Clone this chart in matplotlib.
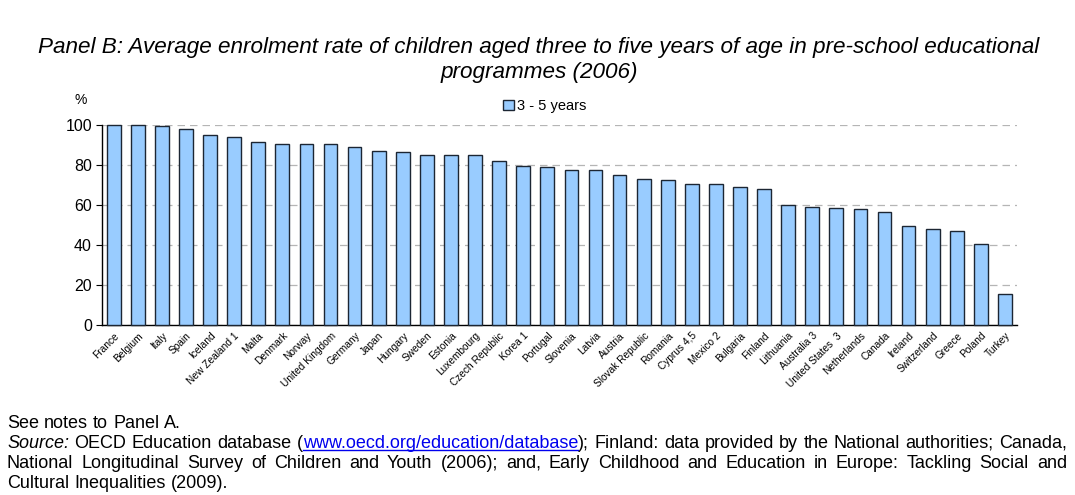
import numpy as np
import matplotlib
matplotlib.use("Agg")
import matplotlib.pyplot as plt
from matplotlib.lines import Line2D

plt.rcParams['font.family'] = ['Liberation Sans', 'DejaVu Sans']

countries = ["France", "Belgium", "Italy", "Spain", "Iceland", "New Zealand 1", "Malta",
             "Denmark", "Norway", "United Kingdom", "Germany", "Japan", "Hungary", "Sweden",
             "Estonia", "Luxembourg", "Czech Republic", "Korea 1", "Portugal", "Slovenia",
             "Latvia", "Austria", "Slovak Republic", "Romania", "Cyprus 4,5", "Mexico 2",
             "Bulgaria", "Finland", "Lithuania", "Australia 3", "United States  3",
             "Netherlands", "Canada", "Ireland", "Switzerland", "Greece", "Poland", "Turkey"]
rates = [100.0, 100.0, 99.5, 97.8, 95.0, 93.8, 91.5,
         90.7, 90.7, 90.7, 89.0, 87.2, 86.7, 85.2,
         85.2, 85.2, 82.2, 79.7, 79.2, 77.3,
         77.3, 74.8, 72.8, 72.5, 70.3, 70.3,
         69.0, 68.0, 60.2, 59.2, 58.3,
         57.8, 56.7, 49.3, 48.0, 46.8, 40.5, 15.7]
yticks = [0, 20, 40, 60, 80, 100]
series_name = "3 - 5 years"

title = ("Panel B: Average enrolment rate of children aged three to five years of age in pre-school educational\n"
         "programmes (2006)")

W, H = 1075, 495
fig = plt.figure(figsize=(W / 100, H / 100), dpi=100)
ax = fig.add_axes([101.7 / W, 1 - 325 / H, (1017 - 101.7) / W, 200 / H])

x = np.arange(len(countries))
ax.bar(x, rates, width=0.57, color="#99CCFF", edgecolor="#1c2633", linewidth=1.0,
       label=series_name, zorder=3, clip_on=False)

ax.set_xlim(-0.5, len(countries) - 0.5)
ax.set_ylim(0, 100)
ax.set_yticks(yticks)
ax.set_yticklabels([str(v) for v in yticks], fontsize=11.5)
ax.tick_params(axis="y", length=4, width=0.8, pad=3)
ax.set_xticks(x)
ax.set_xticklabels(countries, rotation=45, ha="right", rotation_mode="anchor", fontsize=7.3)
ax.tick_params(axis="x", length=0, pad=4)

for s in ["top", "right"]:
    ax.spines[s].set_visible(False)
ax.spines["left"].set_linewidth(1.0)
ax.spines["bottom"].set_linewidth(1.0)
ax.yaxis.grid(True, linestyle=(0, (6, 4)), color="#b5b5b5", linewidth=0.9, zorder=0)
ax.set_axisbelow(True)

ax.text(-0.023, 1.125, "%", transform=ax.transAxes, fontsize=10, ha="center", va="center")

leg = ax.legend(loc="center", bbox_to_anchor=(0.484, 1.094), frameon=False, fontsize=10.5,
                handlelength=0.7, handleheight=0.7, handletextpad=0.2)

fig.text(539 / W, 1 - 60 / H, title, ha="center", va="center", fontsize=16.2,
         style="italic", linespacing=1.2)

# footnote, justified by hand
renderer = fig.canvas.get_renderer()
fs = 13
plain = {}
ital = {"style": "italic"}
link = {"color": "#0000ee", "link": True}


def split_words(txt, st):
    return [[(w, st)] for w in txt.split()]


lines = [
    (split_words("See notes to Panel A.", plain), False),
    ([[("Source:", ital)]] + split_words("OECD Education database", plain)
     + [[("(", plain), ("www.oecd.org/education/database", link), (");", plain)]]
     + split_words("Finland: data provided by the National authorities; Canada,", plain), True),
    (split_words("National Longitudinal Survey of Children and Youth (2006); and, Early "
                 "Childhood and Education in Europe: Tackling Social and", plain), True),
    (split_words("Cultural Inequalities (2009).", plain), False),
]
baselines = [428, 448, 468, 488]
x0, x1 = 7, 1067


def seg_width(txt, st):
    kw = {k: v for k, v in st.items() if k != "link"}
    t = fig.text(0, 0, txt, fontsize=fs, **kw)
    w = t.get_window_extent(renderer).width
    t.remove()
    return w


space_w = seg_width("a a", plain) - 2 * seg_width("a", plain)
for (words, just), yb in zip(lines, baselines):
    widths = [[seg_width(t, st) for t, st in w] for w in words]
    total = sum(sum(w) for w in widths)
    if just:
        gap = (x1 - x0 - total) / (len(words) - 1)
    else:
        gap = space_w
    xp = x0
    for w, ws in zip(words, widths):
        for (t, st), sw in zip(w, ws):
            kw = {k: v for k, v in st.items() if k != "link"}
            fig.text(xp / W, 1 - yb / H, t, fontsize=fs, va="baseline", ha="left", **kw)
            if st.get("link"):
                fig.add_artist(Line2D([xp / W, (xp + sw) / W], [1 - (yb + 2) / H] * 2,
                                      color="#0000ee", linewidth=1.0))
            xp += sw
        xp += gap

fig.savefig("out.png", dpi=100)
